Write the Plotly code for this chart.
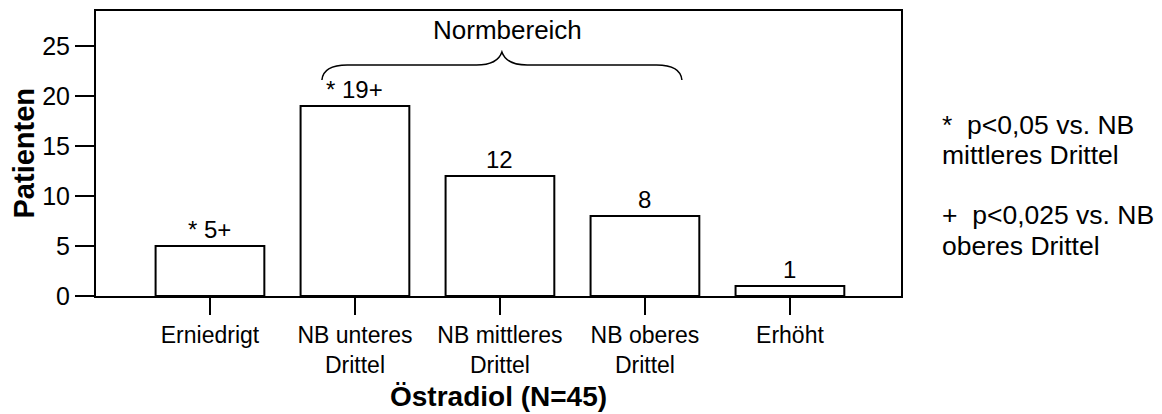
import plotly.graph_objects as go

# ---- data ----
categories = ["Erniedrigt", "NB unteres<br>Drittel", "NB mittleres<br>Drittel",
              "NB oberes<br>Drittel", "Erhöht"]
patients = [5, 19, 12, 8, 1]
value_labels = ["* 5+", "* 19+", "12", "8", "1"]
y_ticks = [0, 5, 10, 15, 20, 25]
legend_lines = ["*\u00a0\u00a0p&lt;0,05 vs. NB", "mittleres Drittel",
                "+\u00a0\u00a0p&lt;0,025 vs. NB", "oberes Drittel"]

FONT = "Liberation Sans, Arial, sans-serif"
W, H = 1162, 414
L, R, T, B = 96, 261, 11, 118
plot_w = W - L - R
plot_h = H - T - B

x_idx = list(range(len(categories)))

fig = go.Figure()
fig.add_trace(go.Bar(
    x=x_idx, y=patients, width=0.75,
    marker=dict(color="white", line=dict(color="black", width=2)),
    hoverinfo="skip", showlegend=False,
))

# value labels above bars
for xi, v, lab in zip(x_idx, patients, value_labels):
    fig.add_annotation(x=xi, y=v, text=lab, showarrow=False, xref="x", yref="y",
                       yanchor="bottom", yshift=1,
                       font=dict(family=FONT, size=24, color="black"))

# curly brace over the normal-range categories
b_x0, b_x1 = 0.772, 3.255
b_mid = (b_x0 + b_x1) / 2
b_low, b_flat, b_tip = 21.6, 23.1, 24.4
c = 0.175
path = (f"M {b_x0},{b_low} Q {b_x0 + 0.01},{b_flat} {b_x0 + c},{b_flat} "
        f"L {b_mid - c},{b_flat} Q {b_mid - 0.03},{b_flat} {b_mid},{b_tip} "
        f"Q {b_mid + 0.03},{b_flat} {b_mid + c},{b_flat} "
        f"L {b_x1 - c},{b_flat} Q {b_x1 - 0.01},{b_flat} {b_x1},{b_low}")
fig.add_shape(type="path", path=path, xref="x", yref="y",
              line=dict(color="black", width=1.5))
fig.add_annotation(x=b_mid + 0.04, y=26.6, text="Normbereich", showarrow=False,
                   xref="x", yref="y", yanchor="middle",
                   font=dict(family=FONT, size=26, color="black"))

# significance legend at right
legend_y_px = [125, 155, 215, 246]
for txt, ypx in zip(legend_lines, legend_y_px):
    fig.add_annotation(x=(940 - L) / plot_w, y=(T + plot_h - ypx) / plot_h,
                       xref="paper", yref="paper", text=txt, showarrow=False,
                       xanchor="left", yanchor="middle",
                       font=dict(family=FONT, size=26.5, color="black"))

# axis titles
fig.add_annotation(x=(23 - L) / plot_w, y=0.5, xref="paper", yref="paper",
                   text="<b>Patienten</b>", textangle=-90, showarrow=False,
                   xanchor="center", yanchor="middle",
                   font=dict(family=FONT, size=29, color="black"))
fig.add_annotation(x=0.5, y=(T + plot_h - 396) / plot_h, xref="paper", yref="paper",
                   text="<b>Östradiol (N=45)</b>", showarrow=False,
                   xanchor="center", yanchor="middle",
                   font=dict(family=FONT, size=28, color="black"))

fig.update_layout(
    width=W, height=H,
    margin=dict(l=L, r=R, t=T, b=B, autoexpand=False),
    paper_bgcolor="white", plot_bgcolor="white",
    font=dict(family=FONT, color="black"),
)
fig.update_xaxes(
    range=[-0.786, 4.766], tickvals=x_idx, ticktext=categories,
    ticks="outside", ticklen=17, tickwidth=2, tickcolor="black",
    showline=True, linecolor="black", linewidth=2, mirror=True,
    showgrid=False, zeroline=False,
    tickfont=dict(family=FONT, size=23, color="black"),
    fixedrange=True,
)
fig.update_yaxes(
    range=[0, 28.5], tickvals=y_ticks,
    ticks="outside", ticklen=19, tickwidth=2, tickcolor="black",
    showline=True, linecolor="black", linewidth=2, mirror=True,
    showgrid=False, zeroline=False,
    tickfont=dict(family=FONT, size=25, color="black"),
    fixedrange=True,
)

fig.write_html("out.html", config={"displayModeBar": False},
               post_script="document.body.style.margin='0';document.body.style.overflow='hidden';")
